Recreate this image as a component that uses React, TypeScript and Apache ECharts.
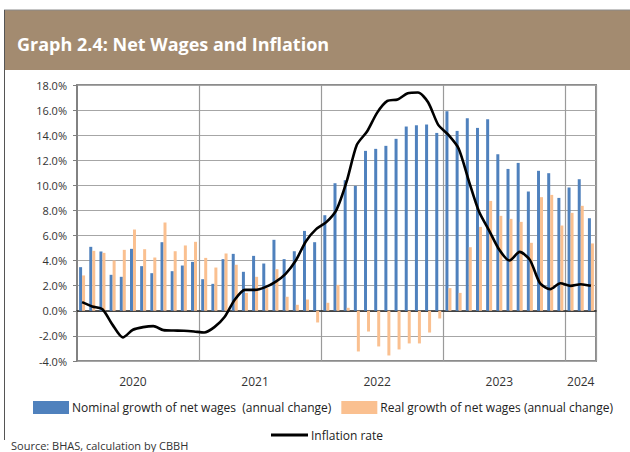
import React, { useEffect, useRef } from "react";
import * as echarts from "echarts";

const months: string[] = [];
for (let y = 2020; y <= 2024; y++) {
  for (let m = 1; m <= 12; m++) {
    if (y === 2024 && m > 3) break;
    months.push(`${y}-${String(m).padStart(2, "0")}`);
  }
}

const yearLabelIdx: Record<number, string> = { 5: "2020", 17: "2021", 29: "2022", 41: "2023", 49: "2024" };

const nominal = [
  3.48, 5.1, 4.73, 2.87, 2.71, 4.94, 3.56, 3.0, 5.47, 3.16, 3.61, 3.9,
  2.52, 2.15, 4.12, 4.54, 3.11, 4.38, 3.77, 5.66, 4.12, 4.75, 6.37, 5.47,
  7.62, 10.17, 10.41, 9.96, 12.75, 12.91, 13.15, 13.71, 14.69, 14.79, 14.85, 14.18,
  15.91, 14.34, 15.35, 14.58, 15.27, 12.48, 11.31, 11.79, 9.51, 11.16, 10.97, 9.0,
  9.83, 10.49, 7.38,
];

const real = [
  2.82, 4.78, 4.62, 4.01, 4.86, 6.48, 4.91, 4.25, 7.04, 4.75, 5.21, 5.5,
  4.22, 3.45, 4.57, 3.67, 1.43, 2.71, 1.81, 3.32, 1.12, 0.48, 0.9, -0.93,
  0.64, 2.07, 0.24, -3.24, -1.65, -2.84, -3.56, -3.08, -2.6, -2.6, -1.73, -0.61,
  1.81, 1.43, 5.07, 6.69, 8.76, 7.57, 7.33, 7.09, 5.42, 9.06, 9.24, 6.8,
  7.81, 8.37, 5.37,
];

const inflation = [
  0.69, 0.35, 0.13, -1.12, -2.12, -1.51, -1.3, -1.22, -1.54, -1.57, -1.59, -1.65,
  -1.73, -1.3, -0.5, 0.88, 1.67, 1.67, 1.89, 2.31, 2.95, 4.01, 5.55, 6.51,
  7.07, 8.05, 10.31, 13.23, 14.29, 15.8, 16.73, 16.84, 17.34, 17.4, 16.63, 14.82,
  14.02, 12.94, 10.36, 7.91, 6.4, 4.86, 4.01, 4.7, 4.06, 2.2, 1.73, 2.2,
  1.99, 2.12, 1.99,
];

const NOMINAL_NAME = "Nominal growth of net wages  (annual change)";
const REAL_NAME = "Real growth of net wages (annual change)";
const INFL_NAME = "Inflation rate";
const FONT = "'Open Sans', sans-serif";

export default function App() {
  const ref = useRef<HTMLDivElement>(null);
  useEffect(() => {
    if (!ref.current) return;
    const chart = echarts.init(ref.current, null, { renderer: "svg" });
    chart.setOption({
      animation: false,
      backgroundColor: "#ffffff",
      textStyle: { fontFamily: FONT },
      grid: {
        left: 77,
        right: 34,
        top: 85,
        bottom: 91,
        show: true,
        borderColor: "#8c8c8c",
        borderWidth: 2,
        backgroundColor: "transparent",
      },
      xAxis: {
        type: "category",
        data: months,
        boundaryGap: true,
        axisLine: { show: true, lineStyle: { color: "#222", width: 1.5 } },
        axisTick: { show: false },
        axisLabel: {
          interval: (i: number) => yearLabelIdx[i] !== undefined,
          formatter: (_v: string, i: number) => yearLabelIdx[i] ?? "",
          color: "#333",
          fontSize: 12,
          fontFamily: FONT,
          margin: 14,
        },
        splitLine: {
          show: true,
          interval: (i: number) => i > 0 && i % 12 === 0,
          lineStyle: { color: "#9a9a9a", width: 1.2 },
        },
      },
      yAxis: {
        type: "value",
        min: -4,
        max: 18,
        interval: 2,
        axisLine: { show: true, lineStyle: { color: "#7f7f7f", width: 1.5 } },
        axisTick: { show: true, length: 4, lineStyle: { color: "#7f7f7f" } },
        axisLabel: {
          formatter: (v: number) => v.toFixed(1) + "%",
          color: "#333",
          fontSize: 11,
          fontFamily: FONT,
          margin: 10,
        },
        splitLine: { show: true, lineStyle: { color: "#a6a6a6", width: 1.2 } },
      },
      legend: [
        {
          data: [NOMINAL_NAME, REAL_NAME],
          left: 33,
          top: 401,
          itemWidth: 36,
          itemHeight: 13,
          itemGap: 10,
          icon: "rect",
          textStyle: { fontSize: 12, color: "#222", fontFamily: FONT, padding: [0, 0, 0, -2] },
          padding: 0,
          selectedMode: false,
        },
        {
          data: [{ name: INFL_NAME, icon: "rect", itemStyle: { color: "#000" } }],
          left: 271,
          top: 429,
          itemWidth: 37,
          itemHeight: 3,
          textStyle: { fontSize: 12, color: "#222", fontFamily: FONT, padding: [0, 0, 0, -2] },
          padding: 0,
          selectedMode: false,
        },
      ],
      graphic: [
        {
          type: "rect",
          shape: { x: 4, y: 10, width: 626, height: 60 },
          style: { fill: "#a38b70" },
          silent: true,
        },
        {
          type: "line",
          shape: { x1: 4, y1: 10, x2: 630, y2: 10 },
          style: { stroke: "#8a8a8a", lineWidth: 1 },
          silent: true,
        },
        {
          type: "line",
          shape: { x1: 4.5, y1: 10, x2: 4.5, y2: 440 },
          style: { stroke: "#555", lineWidth: 1 },
          silent: true,
        },
        {
          type: "text",
          x: 17,
          y: 44,
          style: {
            text: "Graph 2.4: Net Wages and Inflation",
            fill: "#ffffff",
            font: `bold 18px ${FONT}`,
            textVerticalAlign: "middle",
          },
          silent: true,
        },
        {
          type: "text",
          x: 11,
          y: 445,
          style: {
            text: "Source: BHAS, calculation by CBBH",
            fill: "#333",
            font: `11px ${FONT}`,
            textVerticalAlign: "middle",
          },
          silent: true,
        },
      ],
      series: [
        {
          name: NOMINAL_NAME,
          type: "bar",
          data: nominal,
          barWidth: 3,
          barGap: "0%",
          itemStyle: { color: "#4f81bd" },
        },
        {
          name: REAL_NAME,
          type: "bar",
          data: real,
          barWidth: 3,
          itemStyle: { color: "#fac090" },
        },
        {
          name: INFL_NAME,
          type: "line",
          data: inflation,
          symbol: "none",
          smooth: 0.25,
          lineStyle: { color: "#000", width: 2.6 },
          itemStyle: { color: "#000" },
          z: 5,
        },
      ],
    });
    return () => chart.dispose();
  }, []);
  return (
    <div
      ref={ref}
      style={{ position: "fixed", left: 0, top: 0, width: 630, height: 452 }}
    />
  );
}
